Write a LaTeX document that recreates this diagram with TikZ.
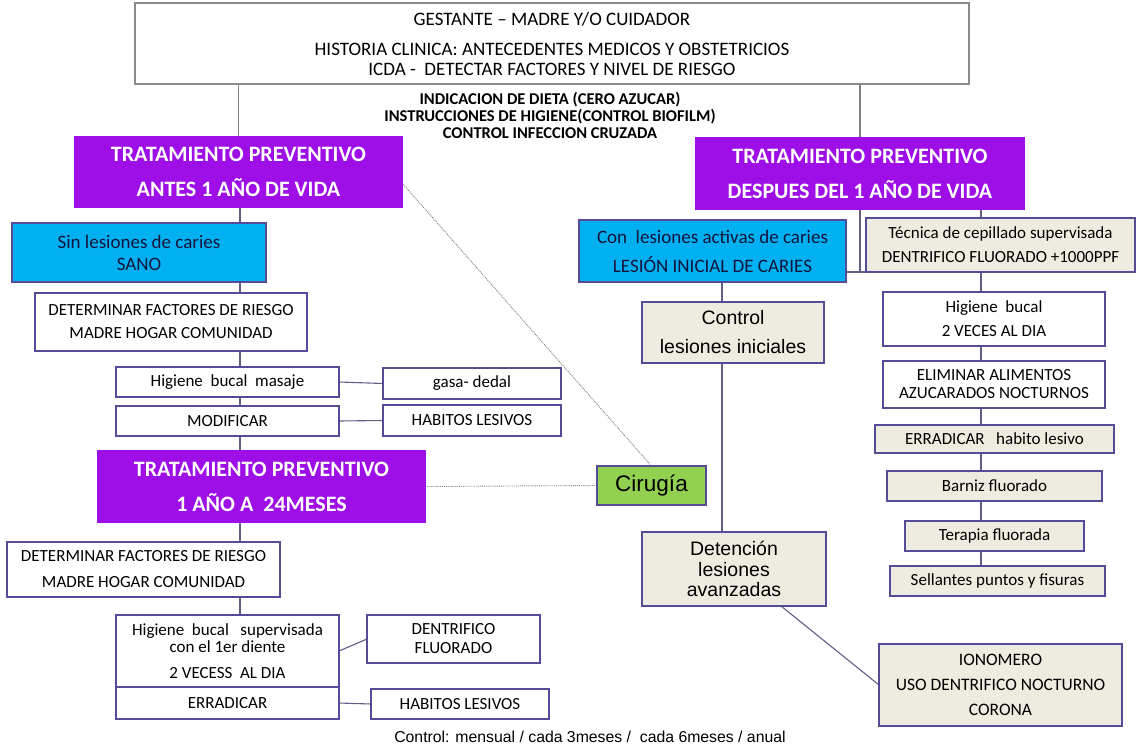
\documentclass[tikz,border=0pt]{standalone}
\usepackage{fontspec}
\setmainfont{Carlito}
\newfontfamily\arialf{Liberation Sans}
\usetikzlibrary{backgrounds,calc}
\definecolor{purp}{RGB}{158,14,230}
\definecolor{cyanb}{RGB}{0,176,240}
\definecolor{greenb}{RGB}{146,208,80}
\definecolor{beige}{RGB}{238,236,225}
\definecolor{bordc}{RGB}{85,75,150}
\definecolor{linec}{RGB}{95,95,135}
\definecolor{darktxt}{RGB}{20,20,60}
\newcommand\fs[2]{\fontsize{#1}{#2}\selectfont}
\tikzset{
  bx/.style={draw=bordc, line width=1.3pt, inner sep=0pt, outer sep=0pt, anchor=north west, align=center, fill=white, text=black, font=\fs{17}{20}},
  gbx/.style={bx, fill=beige},
  pbx/.style={bx, fill=purp, draw=purp, text=white, font=\bfseries\fs{22}{35}},
  bbx/.style={bx, fill=cyanb, text=darktxt},
  conn/.style={draw=linec, line width=1.1pt},
  dotl/.style={draw=gray, line width=0.9pt, densely dotted},
}
\begin{document}
\begin{tikzpicture}[x=1pt,y=-1pt]
\useasboundingbox (0,0) rectangle (1137,746);

% top
\node[bx, draw=gray!90, line width=1.1pt, minimum width=834, minimum height=81, font=\fs{19}{20}] (top) at (135,3)
 {GESTANTE -- MADRE Y/O CUIDADOR\\[10pt]HISTORIA CLINICA: ANTECEDENTES MEDICOS Y OBSTETRICIOS\\ICDA -\ \ DETECTAR FACTORES Y NIVEL DE RIESGO};
\node[align=center, inner sep=0pt, font=\bfseries\fs{16.5}{17}] (instr) at (550,115)
 {INDICACION DE DIETA (CERO AZUCAR)\\INSTRUCCIONES DE HIGIENE(CONTROL BIOFILM)\\CONTROL INFECCION CRUZADA};

% left column
\node[pbx, minimum width=327, minimum height=70] (lp) at (75,137) {TRATAMIENTO PREVENTIVO\\ANTES 1 AÑO DE VIDA};
\node[bbx, minimum width=254, minimum height=59, font=\fs{19}{22}] (sano) at (12,223) {Sin lesiones de caries\\SANO};
\node[bx, minimum width=272, minimum height=58, font=\fs{17}{23}] (det1) at (35,293) {DETERMINAR FACTORES DE RIESGO\\MADRE HOGAR COMUNIDAD};
\node[bx, minimum width=223, minimum height=30] (hbm) at (116,367) {Higiene\ \ bucal\ \ masaje};
\node[bx, minimum width=178, minimum height=31] (gasa) at (383,368) {gasa- dedal};
\node[bx, minimum width=223, minimum height=30] (mod) at (116,406) {MODIFICAR};
\node[bx, minimum width=178, minimum height=31] (hab1) at (383,405) {HABITOS LESIVOS};
\node[pbx, minimum width=327, minimum height=71] (p2) at (98,451) {TRATAMIENTO PREVENTIVO\\1 AÑO A\ \ 24MESES};
\node[bx, fill=greenb, minimum width=109, minimum height=39, font=\arialf\fs{22.5}{24}] (cir) at (597,466) {Cirugía};
\node[bx, minimum width=273, minimum height=55, font=\fs{17}{26}] (det2) at (7,542) {DETERMINAR FACTORES DE RIESGO\\MADRE HOGAR COMUNIDAD};
\node[bx, minimum width=223, minimum height=72, font=\fs{17}{17}] (hbs) at (116,615) {Higiene\ \ bucal\ \ \ supervisada\\con el 1er diente\\[9pt]2 VECESS\ \ AL DIA};
\node[bx, minimum width=223, minimum height=32] (err) at (116,687) {ERRADICAR};
\node[bx, minimum width=173, minimum height=48, font=\fs{17}{19}] (dent) at (367,615) {DENTRIFICO\\FLUORADO};
\node[bx, minimum width=178, minimum height=30] (hab2) at (371,689) {HABITOS LESIVOS};
\node[inner sep=0pt, font=\arialf\fs{15.8}{17}] (ctl) at (590,737) {Control: mensual / cada 3meses /\ \ cada 6meses / anual};

% right part
\node[pbx, minimum width=328, minimum height=71] (rp) at (696,138) {TRATAMIENTO PREVENTIVO\\DESPUES DEL 1 AÑO DE VIDA};
\node[bbx, minimum width=267, minimum height=62, font=\fs{19}{29}] (cl) at (579,220) {Con\ \ lesiones activas de caries\\LESIÓN INICIAL DE CARIES};
\node[gbx, minimum width=269, minimum height=54, font=\fs{17}{24}] (tech) at (866,218) {Técnica de cepillado supervisada\\DENTRIFICO FLUORADO +1000PPF};
\node[gbx, minimum width=182, minimum height=61, font=\arialf\fs{19.5}{29}] (ctrl) at (642,302) {Control\\lesiones iniciales};
\node[bx, minimum width=222, minimum height=54, font=\fs{17}{24}] (hb2) at (883,292) {Higiene\ \ bucal\\2 VECES AL DIA};
\node[bx, minimum width=222, minimum height=47, font=\fs{17}{18}] (elim) at (883,361) {ELIMINAR ALIMENTOS\\AZUCARADOS NOCTURNOS};
\node[gbx, minimum width=239, minimum height=28] (err2) at (875,425) {ERRADICAR\ \ \ habito lesivo};
\node[gbx, minimum width=215, minimum height=30] (barn) at (887,471) {Barniz fluorado};
\node[gbx, minimum width=179, minimum height=30] (ter) at (905,521) {Terapia fluorada};
\node[gbx, minimum width=215, minimum height=30] (sel) at (890,566) {Sellantes puntos y fisuras};
\node[gbx, minimum width=184, minimum height=74, font=\arialf\fs{19.5}{20.5}] (det3) at (642,532) {Detención\\lesiones\\avanzadas};
\node[gbx, minimum width=243, minimum height=82, font=\fs{17.5}{25}] (ion) at (879,644) {IONOMERO\\USO DENTRIFICO NOCTURNO\\CORONA};

\coordinate (lt) at (240,0);
\coordinate (mt) at (722,0);
\coordinate (rt) at (981,0);

\begin{pgfonlayer}{background}
\fill[white] (0,0) rectangle (1137,746);
% top connectors
\draw[conn, draw=gray] (lp.north |- top.south) -- (lp.north);
\draw[conn, draw=gray] (rp.north |- top.south) -- (rp.north);
% left trunk
\draw[conn] (lt |- lp.south) -- (lt |- p2.north);
\draw[conn] (lt |- p2.south) -- (lt |- hbs.north);
\draw[conn] (hbm.east) -- (gasa.west);
\draw[conn] (mod.east) -- (hab1.west);
\draw[conn] (hbs.east) -- (dent.west);
\draw[conn] (err.east) -- (hab2.west);
% dotted links to surgery
\draw[dotl] ($(lp.south east)+(0,-24)$) -- (cir.north);
\draw[dotl] (p2.east) -- (cir.west);
% right part
\draw[conn] (rp.south) -- (rp.south |- tech.south);
\draw[conn] (cl.east |- tech.south) -- (tech.south west);
\draw[conn] (rt |- rp.south) -- (rt |- tech.north);
\draw[conn] (rt |- tech.south) -- (rt |- sel.north);
\draw[conn] (mt |- cl.south) -- (mt |- det3.north);
\draw[conn] ($(det3.south east)+(-45,0)$) -- (ion.west);
\end{pgfonlayer}
\end{tikzpicture}
\end{document}
